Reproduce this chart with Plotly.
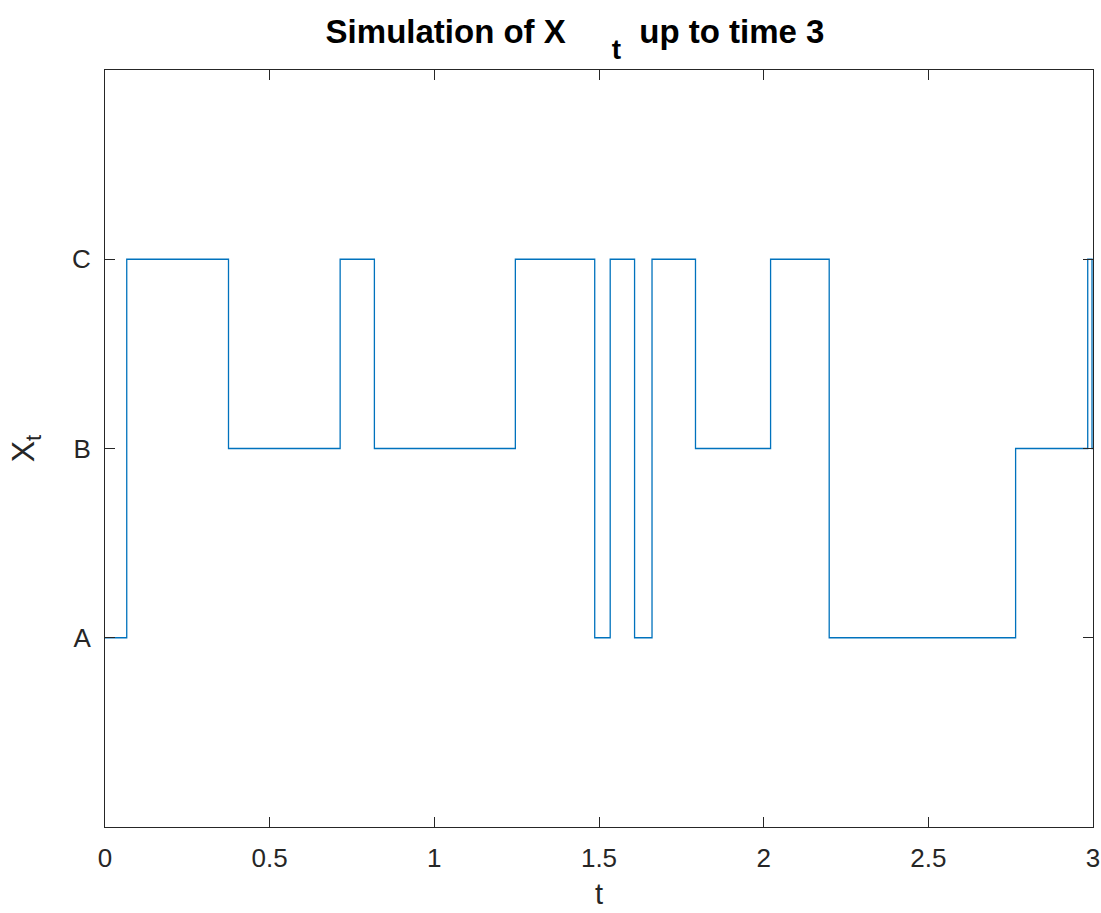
import plotly.graph_objects as go

# Data
state_names = ["A", "B", "C"]
jump_times = [0, 0.066, 0.375, 0.714, 0.818, 1.246, 1.487, 1.534, 1.608, 1.661,
              1.793, 2.021, 2.199, 2.765, 2.984, 2.997, 3.0]
states = ["A", "C", "B", "C", "B", "C", "A", "C", "A", "C",
          "B", "C", "A", "B", "C", "B", "B"]
x_ticks = [0, 0.5, 1, 1.5, 2, 2.5, 3]
x_tick_labels = ["0", "0.5", "1", "1.5", "2", "2.5", "3"]

state_index = [state_names.index(s) + 1 for s in states]

FONT = "Liberation Sans, Arial, Helvetica, sans-serif"
AXC = "#262626"

fig = go.Figure()
fig.add_trace(go.Scatter(
    x=jump_times, y=state_index, mode="lines", line_shape="hv",
    line=dict(color="#0072BD", width=1.3), showlegend=False, hoverinfo="skip",
))

fig.update_layout(
    width=1108, height=921,
    paper_bgcolor="white", plot_bgcolor="white",
    margin=dict(l=105, r=8, t=70, b=94),
    font=dict(family=FONT, color=AXC),
    title=dict(
        text="<b>Simulation of X&nbsp;&nbsp;&nbsp;&nbsp;&nbsp;"
             "<sub><span style=\"font-size:28px;baseline-shift:-9px\">t</span></sub>"
             "&nbsp; up to time 3</b>",
        x=0.519, xanchor="center", xref="container",
        y=0.966, yanchor="middle", yref="container",
        font=dict(size=33, family=FONT, color="black"),
    ),
)

fig.update_xaxes(
    range=[0, 3], tickvals=x_ticks, ticktext=x_tick_labels,
    showgrid=False, zeroline=False,
    showline=True, linecolor=AXC, linewidth=1, mirror="ticks",
    ticks="inside", ticklen=10, tickcolor=AXC, tickwidth=1,
    ticklabelstandoff=8,
    tickfont=dict(size=26, family=FONT, color=AXC),
    title=dict(text="t", font=dict(size=29, family=FONT, color=AXC), standoff=11),
)
fig.update_yaxes(
    range=[0, 4], tickvals=[1, 2, 3], ticktext=state_names,
    showgrid=False, zeroline=False,
    showline=True, linecolor=AXC, linewidth=1, mirror="ticks",
    ticks="inside", ticklen=10, tickcolor=AXC, tickwidth=1,
    ticklabelstandoff=8,
    tickfont=dict(size=26, family=FONT, color=AXC),
    title=dict(text="X<sub>t</sub>", font=dict(size=32, family=FONT, color=AXC), standoff=27),
)

fig.write_html(
    "out.html",
    config={"displayModeBar": False},
    post_script="document.body.style.margin='0';document.body.style.overflow='hidden';",
)
